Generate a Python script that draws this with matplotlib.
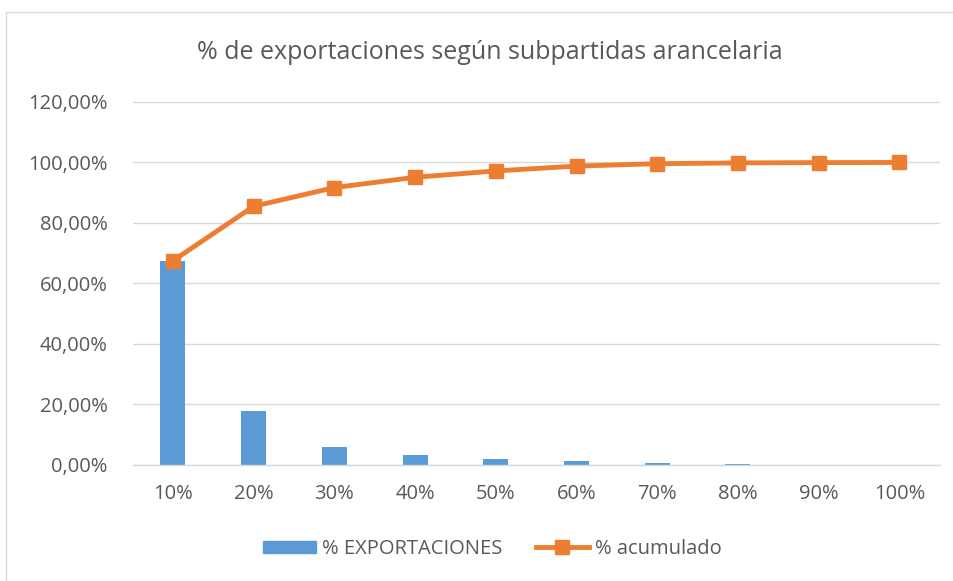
import matplotlib
matplotlib.use("Agg")
import matplotlib.pyplot as plt
from matplotlib.patches import Rectangle
from matplotlib.lines import Line2D
from matplotlib.ticker import FuncFormatter

categories = ["10%", "20%", "30%", "40%", "50%", "60%", "70%", "80%", "90%", "100%"]
exportaciones = [67.5, 17.7, 5.9, 3.3, 2.0, 1.3, 0.6, 0.25, 0.1, 0.05]
acumulado = [67.5, 85.5, 91.7, 95.1, 97.2, 98.8, 99.6, 99.85, 99.95, 100.0]
title = "% de exportaciones según subpartidas arancelaria"

plt.rcParams['font.family'] = ['Open Sans', 'DejaVu Sans']
gray = "#595959"
blue = "#5B9BD5"
orange = "#ED7D31"

fig = plt.figure(figsize=(9.54, 5.81), dpi=100)
fig.patches.append(Rectangle((0.006, -0.01), 1.2, 0.99, transform=fig.transFigure,
                             fill=False, edgecolor="#D9D9D9", linewidth=1))
ax = fig.add_axes([0.139, 0.1997, 0.846, 0.6248])

x = list(range(len(categories)))
ax.bar(x, [v / 100 for v in exportaciones], width=0.31, color=blue, zorder=2,
       label="% EXPORTACIONES")
ax.plot(x, [v / 100 for v in acumulado], color=orange, linewidth=3.5, marker="s",
        markersize=10, zorder=3, label="% acumulado")

ax.set_xlim(-0.5, len(categories) - 0.5)
ax.set_ylim(0, 1.2)
ax.set_yticks([0, 0.2, 0.4, 0.6, 0.8, 1.0, 1.2])
ax.yaxis.set_major_formatter(FuncFormatter(lambda v, p: f"{v*100:.2f}%".replace(".", ",")))
ax.set_xticks(x)
ax.set_xticklabels(categories)
ax.tick_params(axis="both", length=0, labelsize=14.5, colors=gray)
ax.tick_params(axis="x", pad=14)
ax.tick_params(axis="y", pad=18)
ax.grid(axis="y", color="#D9D9D9", linewidth=1, zorder=0)
for s in ["top", "right", "left"]:
    ax.spines[s].set_visible(False)
ax.spines["bottom"].set_color("#D9D9D9")
ax.spines["bottom"].set_linewidth(1)

fig.text(0.513, 0.909, title, ha="center", va="center", fontsize=18, color=gray)

handles = [Rectangle((0, 0), 1, 1, color=blue),
           Line2D([], [], color=orange, linewidth=3.5, marker="s", markersize=10)]
leg = fig.legend(handles, ["% EXPORTACIONES", "% acumulado"], loc="center",
                 bbox_to_anchor=(0.516, 0.055), ncol=2, frameon=False,
                 fontsize=14.5, handlelength=2.6, handleheight=0.6,
                 handletextpad=0.3, columnspacing=1.7)
for t in leg.get_texts():
    t.set_color(gray)

fig.savefig("out.png", dpi=100)
